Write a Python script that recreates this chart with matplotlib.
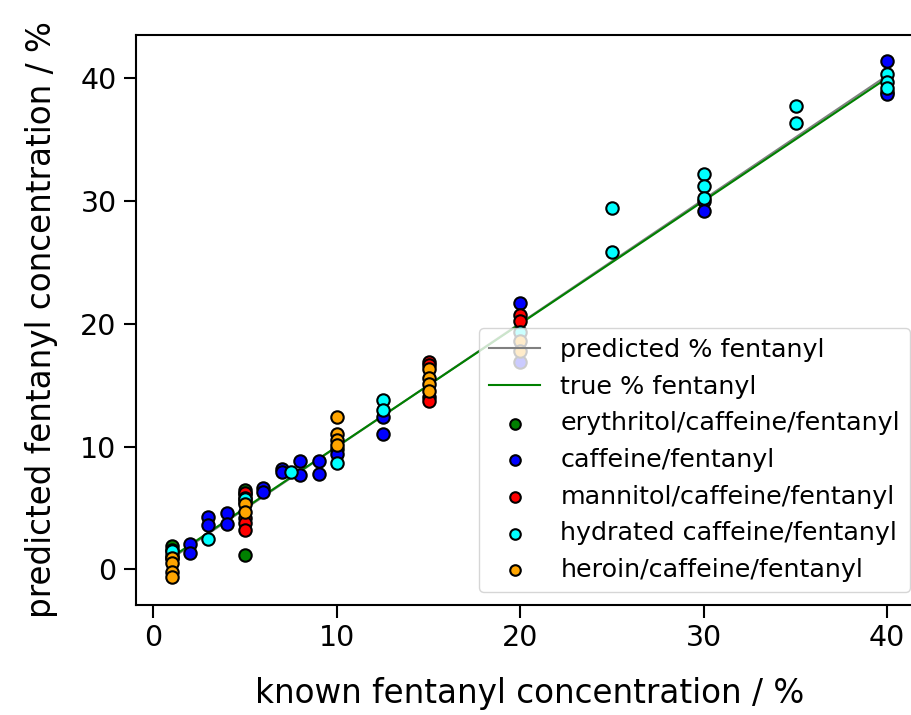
import matplotlib
matplotlib.use('Agg')
import matplotlib.pyplot as plt

# known vs predicted fentanyl concentration (%), per mixture
ery_x = [1, 1, 5, 5, 5]
ery_y = [1.9, 1.6, 6.5, 6.1, 1.2]

caf_x = [1, 2, 2, 3, 3, 4, 4, 6, 6, 7, 7, 8, 8, 9, 9, 10, 10, 12.5, 12.5, 20, 20, 30, 30, 40, 40, 40]
caf_y = [1.2, 2.1, 1.3, 4.3, 3.6, 4.6, 3.7, 6.6, 6.3, 8.2, 7.9, 8.8, 7.7, 8.8, 7.8, 9.8, 9.4,
         12.4, 11.0, 21.7, 16.9, 30.0, 29.2, 41.4, 38.9, 38.7]

man_x = [1, 5, 5, 5, 5, 5, 5, 15, 15, 15, 15, 20, 20]
man_y = [0.9, 6.2, 5.8, 5.5, 4.2, 3.8, 3.2, 16.9, 16.6, 14.0, 13.7, 20.7, 20.2]

hyd_x = [1, 3, 5, 7.5, 10, 12.5, 12.5, 20, 25, 25, 30, 30, 30, 35, 35, 40, 40, 40]
hyd_y = [1.5, 2.5, 5.7, 7.9, 8.7, 13.8, 13.0, 19.3, 29.4, 25.8, 32.2, 31.2, 30.2, 37.7, 36.3,
         40.3, 39.7, 39.2]

her_x = [1, 1, 1, 1, 5, 5, 10, 10, 10, 10, 15, 15, 15, 15, 20, 20]
her_y = [0.9, 0.5, -0.2, -0.6, 5.3, 4.7, 12.4, 11.0, 10.5, 10.1, 16.3, 15.6, 15.1, 14.5, 18.6, 17.8]

fit_x = [1, 40]
fit_y = [0.9, 40.2]
true_x = [1, 40]
true_y = [1, 40]

fig = plt.figure(figsize=(9.12, 7.15), dpi=100)
ax = fig.add_axes([136 / 912, 110 / 715, (923 - 136) / 912, 570 / 715])

ax.plot(fit_x, fit_y, color='gray', lw=1.5, label='predicted % fentanyl')
ax.plot(true_x, true_y, color='green', lw=1.5, label='true % fentanyl')

kw = dict(s=80, edgecolors='black', linewidths=1.5, zorder=3)
ax.scatter(ery_x, ery_y, c='green', label='erythritol/caffeine/fentanyl', **kw)
ax.scatter(caf_x, caf_y, c='blue', label='caffeine/fentanyl', **kw)
ax.scatter(man_x, man_y, c='red', label='mannitol/caffeine/fentanyl', **kw)
ax.scatter(hyd_x, hyd_y, c='cyan', label='hydrated caffeine/fentanyl', **kw)
ax.scatter(her_x, her_y, c='orange', label='heroin/caffeine/fentanyl', **kw)

ax.set_xlim(-0.95, 41.95)
ax.set_ylim(-2.9, 43.5)
ax.set_xticks([0, 10, 20, 30, 40])
ax.set_yticks([0, 10, 20, 30, 40])
ax.tick_params(labelsize=20.5, length=9, width=1.5, pad=5)
for sp in ax.spines.values():
    sp.set_linewidth(1.5)

ax.set_xlabel('known fentanyl concentration / %', fontsize=23.5, labelpad=18)
ax.set_ylabel('predicted fentanyl concentration / %', fontsize=23.5, labelpad=16)
leg = ax.legend(loc='lower right', fontsize=18.3, markerscale=0.85)
leg.set_zorder(5)

fig.savefig('out.png', dpi=100)
